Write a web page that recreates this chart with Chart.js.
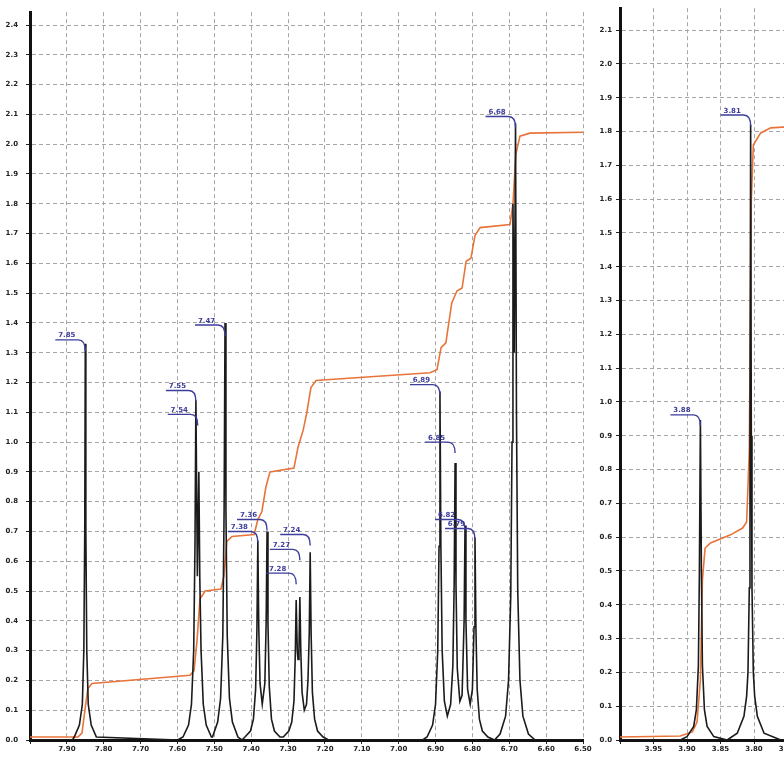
<!DOCTYPE html>
<html>
<head>
<meta charset="utf-8">
<script src="https://cdn.jsdelivr.net/npm/chart.js@4.4.0/dist/chart.umd.min.js"></script>
<style>
  html, body { margin: 0; padding: 0; background: #ffffff; width: 784px; height: 757px; overflow: hidden; }
  #left { position: absolute; left: 0; top: 0; }
  #right { position: absolute; left: 595px; top: 0; }
</style>
</head>
<body>
<canvas id="left" width="595" height="757"></canvas>
<canvas id="right" width="236" height="757"></canvas>
<script>
// ---------- tick labels ----------
const leftXTicks = [6.5, 6.6, 6.7, 6.8, 6.9, 7.0, 7.1, 7.2, 7.3, 7.4, 7.5, 7.6, 7.7, 7.8, 7.9, 8.0];
const leftYTicks = [0, 0.1, 0.2, 0.3, 0.4, 0.5, 0.6, 0.7, 0.8, 0.9, 1.0, 1.1, 1.2, 1.3, 1.4, 1.5, 1.6, 1.7, 1.8, 1.9, 2.0, 2.1, 2.2, 2.3, 2.4];
const rightXTicks = [3.70, 3.75, 3.80, 3.85, 3.90, 3.95, 4.00];
const rightYTicks = [0, 0.1, 0.2, 0.3, 0.4, 0.5, 0.6, 0.7, 0.8, 0.9, 1.0, 1.1, 1.2, 1.3, 1.4, 1.5, 1.6, 1.7, 1.8, 1.9, 2.0, 2.1];

// ---------- left spectrum (ppm, intensity) ----------
const leftSpecPpm = [
  8.000, 7.885,
  7.880, 7.866, 7.858, 7.854, 7.8515, 7.850, 7.8485, 7.846, 7.842, 7.834, 7.820,
  7.600,
  7.585, 7.570, 7.562, 7.556, 7.5525, 7.550, 7.546, 7.542, 7.5395, 7.536, 7.530, 7.522, 7.508,
  7.505, 7.491, 7.483, 7.477, 7.4735, 7.471, 7.4685, 7.465, 7.459, 7.451, 7.436,
  7.425,
  7.417, 7.402, 7.394, 7.388, 7.3845, 7.382, 7.3795, 7.376, 7.370, 7.363, 7.3595, 7.357, 7.3545, 7.351, 7.345, 7.337, 7.322,
  7.313, 7.298, 7.290, 7.284, 7.2805, 7.278, 7.275, 7.273, 7.2705, 7.268, 7.2655, 7.262, 7.256, 7.250, 7.246, 7.2425, 7.240, 7.2375, 7.234, 7.228, 7.220, 7.205,
  7.190, 6.935,
  6.923, 6.908, 6.900, 6.894, 6.8905, 6.888, 6.8855, 6.882, 6.876, 6.868, 6.859, 6.853, 6.8495, 6.847, 6.8445, 6.841, 6.834, 6.828, 6.8225, 6.820, 6.8175, 6.813, 6.806, 6.800, 6.7955, 6.793, 6.7905, 6.787, 6.781, 6.773, 6.758,
  6.740,
  6.725, 6.710, 6.702, 6.696, 6.6925, 6.690, 6.6865, 6.683, 6.6805, 6.677, 6.671, 6.663, 6.648,
  6.630, 6.500
];
const leftSpecInt = [
  0, 0,
  0.01, 0.05, 0.12, 0.30, 0.70, 1.33, 0.70, 0.30, 0.12, 0.05, 0.01,
  0,
  0.01, 0.05, 0.12, 0.30, 0.65, 1.14, 0.55, 0.90, 0.55, 0.30, 0.12, 0.05, 0.01,
  0.01, 0.06, 0.14, 0.35, 0.77, 1.40, 0.77, 0.35, 0.14, 0.06, 0.01,
  0,
  0.01, 0.03, 0.07, 0.17, 0.37, 0.67, 0.38, 0.19, 0.12, 0.19, 0.39, 0.70, 0.39, 0.18, 0.07, 0.03, 0.01,
  0.01, 0.03, 0.06, 0.13, 0.28, 0.47, 0.30, 0.27, 0.30, 0.48, 0.30, 0.16, 0.10, 0.12, 0.20, 0.36, 0.63, 0.36, 0.16, 0.07, 0.03, 0.01,
  0, 0,
  0.01, 0.05, 0.12, 0.30, 0.65, 1.17, 0.65, 0.30, 0.13, 0.08, 0.12, 0.25, 0.52, 0.93, 0.52, 0.24, 0.13, 0.15, 0.40, 0.72, 0.40, 0.17, 0.12, 0.17, 0.38, 0.68, 0.38, 0.17, 0.07, 0.03, 0.01,
  0,
  0.02, 0.08, 0.20, 0.48, 1.00, 1.80, 1.30, 2.07, 1.10, 0.50, 0.20, 0.08, 0.02,
  0, 0
];

// ---------- left integral curve ----------
const leftIntPpm = [8.000, 7.870, 7.859, 7.851, 7.843, 7.832, 7.566, 7.555, 7.547, 7.539, 7.525, 7.482, 7.474, 7.466, 7.452, 7.392, 7.382, 7.371, 7.360, 7.349, 7.284, 7.273, 7.259, 7.249, 7.238, 7.224, 7.186, 6.915, 6.896, 6.885, 6.872, 6.856, 6.842, 6.828, 6.817, 6.804, 6.793, 6.779, 6.698, 6.690, 6.682, 6.671, 6.644, 6.500];
const leftIntVal = [0.01, 0.01, 0.023, 0.10, 0.173, 0.19, 0.217, 0.233, 0.333, 0.473, 0.50, 0.507, 0.55, 0.667, 0.683, 0.69, 0.74, 0.767, 0.85, 0.90, 0.913, 0.983, 1.04, 1.10, 1.183, 1.207, 1.21, 1.233, 1.243, 1.317, 1.333, 1.467, 1.507, 1.517, 1.607, 1.617, 1.693, 1.72, 1.73, 1.80, 1.967, 2.027, 2.037, 2.04];

// ---------- left peak labels ----------
const leftLabelText  = ["7.85", "7.55", "7.54", "7.47", "7.38", "7.36", "7.28", "7.27", "7.24", "6.89", "6.85", "6.82", "6.79", "6.68"];
const leftLabelPpm   = [7.850, 7.550, 7.545, 7.471, 7.382, 7.357, 7.278, 7.268, 7.240, 6.888, 6.847, 6.820, 6.793, 6.683];
const leftLabelLevel = [1.343, 1.173, 1.093, 1.393, 0.70, 0.74, 0.56, 0.64, 0.69, 1.193, 1.00, 0.74, 0.71, 2.093];

// ---------- right spectrum ----------
const rightSpecPpm = [4.000, 3.910, 3.900, 3.890, 3.886, 3.883, 3.8815, 3.880, 3.8785, 3.877, 3.874, 3.870, 3.860, 3.840,
  3.825, 3.815, 3.811, 3.809, 3.807, 3.806, 3.805, 3.804, 3.803, 3.801, 3.799, 3.795, 3.785, 3.760, 3.700];
const rightSpecInt = [0, 0, 0.01, 0.04, 0.09, 0.22, 0.50, 0.947, 0.50, 0.22, 0.09, 0.04, 0.01, 0,
  0.02, 0.07, 0.13, 0.20, 0.45, 0.90, 1.82, 0.90, 0.45, 0.20, 0.13, 0.07, 0.02, 0, 0];

// ---------- right integral ----------
const rightIntPpm = [4.000, 3.910, 3.892, 3.885, 3.880, 3.877, 3.873, 3.865, 3.835, 3.817, 3.811, 3.807, 3.804, 3.801, 3.790, 3.775, 3.700];
const rightIntVal = [0.009, 0.012, 0.024, 0.053, 0.178, 0.473, 0.568, 0.583, 0.607, 0.627, 0.645, 0.858, 1.598, 1.760, 1.796, 1.811, 1.82];

// ---------- right peak labels ----------
const rightLabelText  = ["3.88", "3.81"];
const rightLabelPpm   = [3.880, 3.805];
const rightLabelLevel = [0.962, 1.849];

// ---------- helpers ----------
function pts(xs, ys) { return xs.map((x, i) => ({ x: x, y: ys[i] })); }

const SPEC_COLOR = '#1b1b1b';
const INT_COLOR = '#e8743a';
const LABEL_COLOR = '#3d3d9c';
const GRID_COLOR = '#a6a6a6';
const TICK_FONT = { family: 'DejaVu Sans', size: 7, weight: 'bold' };

function labelPlugin(texts, ppms, levels) {
  return {
    id: 'peakLabels',
    afterDatasetsDraw(chart) {
      const ctx = chart.ctx;
      const xs = chart.scales.x, ys = chart.scales.y;
      ctx.save();
      ctx.strokeStyle = LABEL_COLOR;
      ctx.fillStyle = LABEL_COLOR;
      ctx.lineWidth = 1.4;
      ctx.font = 'bold 7px "DejaVu Sans"';
      ctx.textAlign = 'center';
      ctx.textBaseline = 'alphabetic';
      texts.forEach((t, i) => {
        const px = xs.getPixelForValue(ppms[i]);
        const ly = ys.getPixelForValue(levels[i]);
        const x0 = px - 30, x1 = px - 7;
        ctx.beginPath();
        ctx.moveTo(x0, ly);
        ctx.lineTo(x1, ly);
        ctx.quadraticCurveTo(px, ly, px, ly + 11);
        ctx.stroke();
        ctx.fillText(t, (x0 + x1) / 2, ly - 2.5);
      });
      ctx.restore();
    }
  };
}

function makeChart(id, cfg) {
  return new Chart(document.getElementById(id), {
    type: 'line',
    data: {
      datasets: [
        { data: pts(cfg.specX, cfg.specY), borderColor: SPEC_COLOR, borderWidth: 1.6, pointRadius: 0, tension: 0, fill: false },
        { data: pts(cfg.intX, cfg.intY), borderColor: INT_COLOR, borderWidth: 1.6, pointRadius: 0, tension: 0, fill: false }
      ]
    },
    options: {
      responsive: false,
      animation: false,
      devicePixelRatio: 1,
      layout: { padding: { top: cfg.padTop, right: cfg.padRight, left: 0, bottom: 0 } },
      plugins: { legend: { display: false }, tooltip: { enabled: false } },
      scales: {
        x: {
          type: 'linear', reverse: true, min: cfg.xMin, max: cfg.xMax,
          afterBuildTicks: s => { s.ticks = cfg.xTicks.map(v => ({ value: v })); },
          afterFit: s => { s.height = 17; },
          ticks: {
            autoSkip: false, maxRotation: 0, minRotation: 0, padding: 1,
            color: '#222', font: TICK_FONT,
            callback: v => (Math.abs(v - cfg.xMax) < 1e-9 ? '' : v.toFixed(2))
          },
          grid: { color: GRID_COLOR, lineWidth: 1, tickLength: 4, tickColor: '#222' },
          border: { display: true, color: '#111', width: 3, dash: [4, 3] }
        },
        y: {
          type: 'linear', min: 0, max: cfg.yMax,
          afterBuildTicks: s => { s.ticks = cfg.yTicks.map(v => ({ value: v })); },
          afterFit: s => { s.width = cfg.yWidth; },
          ticks: {
            autoSkip: false, padding: cfg.yPad, color: '#222', font: TICK_FONT,
            callback: v => v.toFixed(1)
          },
          grid: { color: GRID_COLOR, lineWidth: 1, tickLength: 4, tickColor: '#222' },
          border: { display: true, color: '#111', width: 3, dash: [4, 3] }
        }
      }
    },
    plugins: [labelPlugin(cfg.labText, cfg.labPpm, cfg.labLevel)]
  });
}

makeChart('left', {
  specX: leftSpecPpm, specY: leftSpecInt, intX: leftIntPpm, intY: leftIntVal,
  xMin: 6.5, xMax: 8.0, xTicks: leftXTicks, yMax: 2.443, yTicks: leftYTicks,
  padTop: 7, padRight: 12, yWidth: 30, yPad: 8,
  labText: leftLabelText, labPpm: leftLabelPpm, labLevel: leftLabelLevel
});

makeChart('right', {
  specX: rightSpecPpm, specY: rightSpecInt, intX: rightIntPpm, intY: rightIntVal,
  xMin: 3.70, xMax: 4.00, xTicks: rightXTicks, yMax: 2.165, yTicks: rightYTicks,
  padTop: 8, padRight: 10, yWidth: 25, yPad: 4,
  labText: rightLabelText, labPpm: rightLabelPpm, labLevel: rightLabelLevel
});
</script>
</body>
</html>
